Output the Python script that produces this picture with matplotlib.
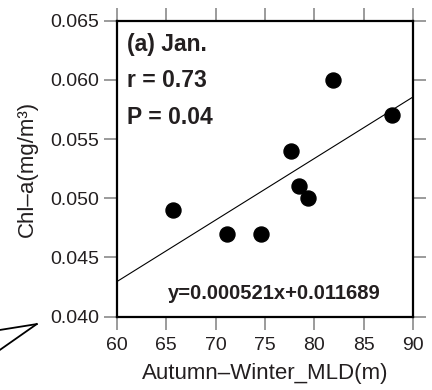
import matplotlib
matplotlib.use('Agg')
import matplotlib.pyplot as plt  # noqa: E402
from matplotlib.lines import Line2D  # noqa: E402
import numpy as np  # noqa: E402

# ------------------------------------------------------------------
# Data (Jan. panel)
# ------------------------------------------------------------------
mld = [65.7, 71.2, 74.6, 77.6, 78.4, 79.3, 81.9, 87.8]
chla = [0.049, 0.047, 0.047, 0.054, 0.051, 0.050, 0.060, 0.057]
slope = 0.000521
intercept = 0.011689
xticks = [60, 65, 70, 75, 80, 85, 90]
yticks = [0.040, 0.045, 0.050, 0.055, 0.060, 0.065]
stats_lines = ['(a) Jan.', 'r = 0.73', 'P = 0.04']

plt.rcParams['font.family'] = ['Liberation Sans', 'DejaVu Sans']
TXT = '#231f20'

fig = plt.figure(figsize=(4.32, 3.90), dpi=100)
ax = fig.add_axes([0.270, 0.188, 0.687, 0.759])

ax.plot(mld, chla, 'o', color='black', markersize=10.8, zorder=3)
xfit = np.array([60, 90])
ax.plot(xfit, slope * xfit + intercept, color='black', linewidth=0.8, zorder=2)

ax.set_xlim(60, 90)
ax.set_ylim(0.040, 0.065)
ax.set_xticks(xticks)
ax.set_yticks(yticks)
ax.set_xticklabels([str(v) for v in xticks])
ax.set_yticklabels([f'{v:.3f}' for v in yticks])
ax.tick_params(direction='out', length=9.5, width=1.1, color='#808080',
               labelsize=14, labelcolor=TXT, top=True, right=True)
ax.tick_params(axis='x', pad=5)
ax.tick_params(axis='y', pad=3)
for sp in ax.spines.values():
    sp.set_linewidth(1.6)
    sp.set_color('black')

ax.set_xlabel('Autumn\u2013Winter_MLD(m)', fontsize=16, color=TXT, labelpad=6.5)
ax.set_ylabel('Chl\u2013a(mg/m\u00b3)', fontsize=16, color=TXT, labelpad=9)

for i, s in enumerate(stats_lines):
    ax.text(0.035, 0.92 - i * 0.123, s, transform=ax.transAxes, fontsize=16.5,
            fontweight='bold', color=TXT, va='center', ha='left')
ax.text(0.53, 0.078, f'y={slope:.6f}x+{intercept:.6f}', transform=ax.transAxes,
        fontsize=14.5, fontweight='bold', color=TXT, va='center', ha='center')

# stray callout lines at lower-left of the original panel
fig.add_artist(Line2D([0.0, 0.085], [0.154, 0.169], color='black', linewidth=1.3))
fig.add_artist(Line2D([0.0, 0.085], [0.103, 0.169], color='black', linewidth=1.3))

fig.savefig('out.png', dpi=100)
plt.close(fig)
